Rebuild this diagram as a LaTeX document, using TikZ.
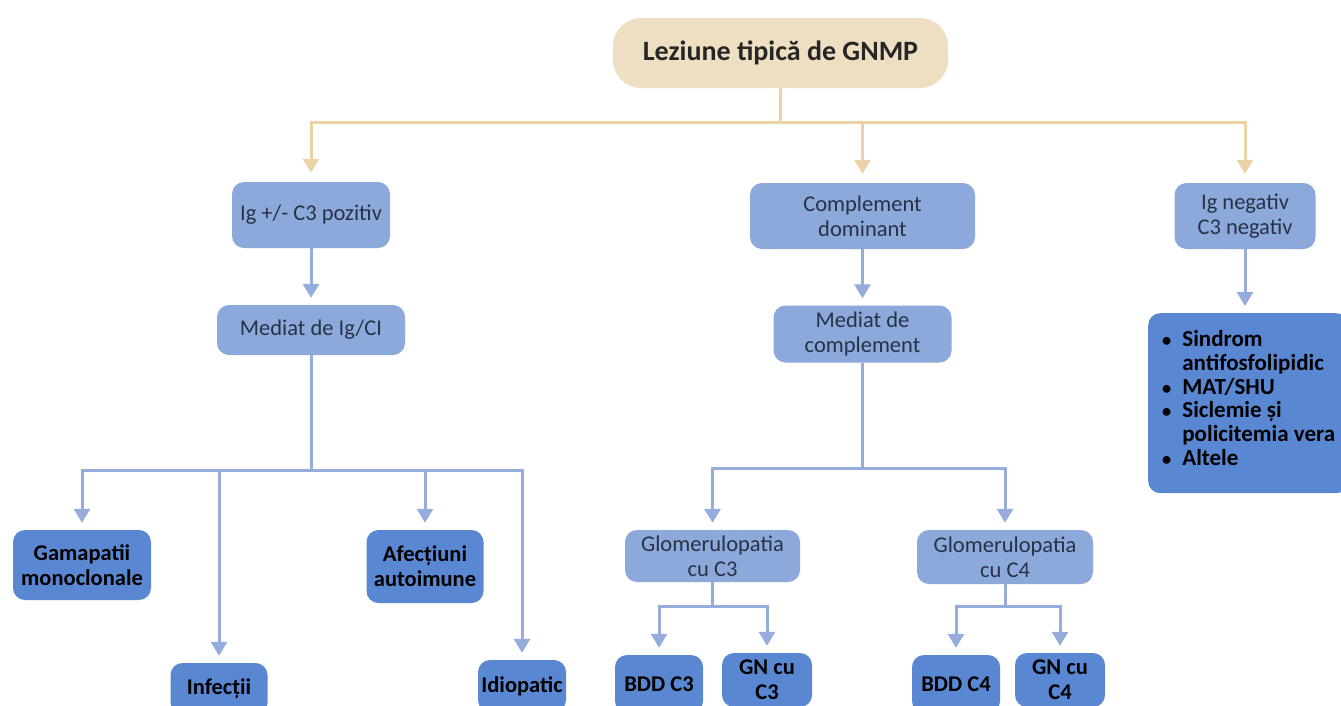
\documentclass[tikz,border=0pt]{standalone}
\usepackage{fontspec}
\setmainfont{Carlito}
\usetikzlibrary{arrows.meta}

\definecolor{sand}{HTML}{EFDFC2}
\definecolor{sandline}{HTML}{EBD3A8}
\definecolor{paleblue}{HTML}{8DA9DC}
\definecolor{deepblue}{HTML}{5A87D2}
\definecolor{linkblue}{HTML}{95ACDD}
\definecolor{ink}{HTML}{283244}

\tikzset{
  base/.style={rounded corners=12pt, inner sep=0pt, align=center},
  rootbox/.style={base, rounded corners=28pt, fill=sand, text=black!85,
    font=\bfseries\fontsize{28}{32}\selectfont},
  lightbox/.style={base, fill=paleblue, text=ink,
    font=\fontsize{22.5}{25}\selectfont},
  darkbox/.style={base, fill=deepblue, text=black,
    font=\bfseries\fontsize{22.5}{25}\selectfont},
  wire/.style={line width=3pt, draw=linkblue},
  feed/.style={wire, -{Triangle[width=16pt,length=14pt]}, shorten >=7pt},
  tanwire/.style={line width=3pt, draw=sandline},
  tanfeed/.style={tanwire, -{Triangle[width=16pt,length=14pt]}, shorten >=9pt},
  sz/.style 2 args={minimum width=#1pt, minimum height=#2pt}
}
\newcommand{\dotmark}{\scalebox{0.8}{•}}

\begin{document}
\begin{tikzpicture}[x=1pt, y=-1pt]
  \useasboundingbox (0,0) rectangle (1341,705);
  \clip (0,0) rectangle (1341,705);
  \fill[white] (0,0) rectangle (1341,705);

  % root
  \node[rootbox, sz={335}{70}] (root) at (780.5,53) {Leziune tipică de GNMP};

  % first level
  \node[lightbox, sz={158}{66}] (igpos) at (311,215) {Ig +/- C3 pozitiv};
  \node[lightbox, sz={225}{66}] (compdom) at (862.5,216) {Complement\\dominant};
  \node[lightbox, sz={141}{66}] (igneg) at (1245,216) {Ig negativ\\C3 negativ};

  % second level
  \node[lightbox, sz={188}{50}] (medig) at (311,330) {Mediat de Ig/CI};
  \node[lightbox, sz={178}{57}] (medcomp) at (862.5,334) {Mediat de\\complement};
  \node[base, fill=deepblue, sz={200}{180}, anchor=north west] (listbox) at (1148,313) {};
  \node[anchor=north west, inner sep=0pt, text=black,
        font=\bfseries\fontsize{23}{23.7}\selectfont] (listtext) at (1162,330)
    {\begin{tabular}{@{}c@{\hspace{11pt}}l@{}}
      \dotmark & Sindrom\\
               & antifosfolipidic\\
      \dotmark & MAT/SHU\\
      \dotmark & Siclemie și\\
               & policitemia vera\\
      \dotmark & Altele
     \end{tabular}};

  % Ig-mediated causes
  \node[darkbox, sz={138}{70}] (gam) at (82,565) {Gamapatii\\monoclonale};
  \node[darkbox, sz={97}{52}] (inf) at (219,689) {Infecții};
  \node[darkbox, sz={117}{73}] (afec) at (425,566.5) {Afecțiuni\\autoimune};
  \node[darkbox, sz={88}{52}] (idio) at (522,686) {Idiopatic};

  % complement-mediated
  \node[lightbox, sz={175}{52}] (glc3) at (712.5,556) {Glomerulopatia\\cu C3};
  \node[lightbox, sz={176}{54}] (glc4) at (1005,557) {Glomerulopatia\\cu C4};
  \node[darkbox, sz={88}{58}] (bddc3) at (659,684) {BDD C3};
  \node[darkbox, sz={90}{54}] (gnc3) at (767,680) {GN cu\\C3};
  \node[darkbox, sz={88}{58}] (bddc4) at (956,684) {BDD C4};
  \node[darkbox, sz={90}{54}] (gnc4) at (1060,680) {GN cu\\C4};

  % junction points
  \coordinate (jroot) at (780.5,122);
  \coordinate (jig) at (311,470);
  \coordinate (jcomp) at (862.5,468);
  \coordinate (jc3) at (712.5,606);
  \coordinate (jc4) at (1005,606);

  % root fan-out
  \draw[tanwire] (root.south) -- (jroot);
  \draw[tanfeed] (jroot) -| (igpos.north);
  \draw[tanfeed] (jroot) -| (compdom.north);
  \draw[tanfeed] (jroot) -| (igneg.north);

  % vertical chains
  \draw[feed] (igpos.south) -- (medig.north);
  \draw[feed] (compdom.south) -- (medcomp.north);
  \draw[feed] (igneg.south) -- (igneg.south |- listbox.north);

  % Ig branch
  \draw[wire] (medig.south) -- (jig);
  \draw[feed] (jig) -| (gam.north);
  \draw[feed] (jig) -| (inf.north);
  \draw[feed] (jig) -| (afec.north);
  \draw[feed] (jig) -| (idio.north);

  % complement branch
  \draw[wire] (medcomp.south) -- (jcomp);
  \draw[feed] (jcomp) -| (glc3.north);
  \draw[feed] (jcomp) -| (glc4.north);

  \draw[wire] (glc3.south) -- (jc3);
  \draw[feed] (jc3) -| (bddc3.north);
  \draw[feed] (jc3) -| (gnc3.north);
  \draw[wire] (glc4.south) -- (jc4);
  \draw[feed] (jc4) -| (bddc4.north);
  \draw[feed] (jc4) -| (gnc4.north);
\end{tikzpicture}
\end{document}
